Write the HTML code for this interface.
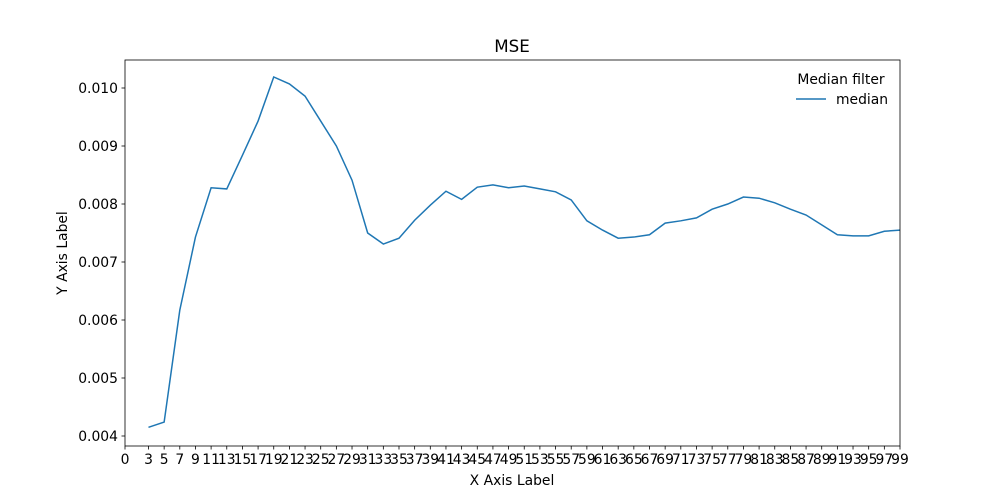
<!DOCTYPE html>
<html><head><meta charset="utf-8"><style>body{margin:0;background:#fff}svg{display:block;font-family:"DejaVu Sans","Liberation Sans",sans-serif}</style></head>
<body>
<svg id="chart" width="1000" height="500">
<rect width="1000" height="500" fill="#fff"/>
<g id="plot"></g>
</svg>
<script>
const xValues=[3,5,7,9,11,13,15,17,19,21,23,25,27,29,31,33,35,37,39,41,43,45,47,49,51,53,55,57,59,61,63,65,67,69,71,73,75,77,79,81,83,85,87,89,91,93,95,97,99];
const medianValues=[0.00415,0.00424,0.00617,0.00743,0.00828,0.00826,0.00884,0.00943,0.01019,0.01007,0.00986,0.00943,0.009,0.00841,0.0075,0.00731,0.00741,0.00772,0.00798,0.00822,0.00808,0.00829,0.00833,0.00828,0.00831,0.00826,0.00821,0.00807,0.00771,0.00755,0.00741,0.00743,0.00747,0.00767,0.00771,0.00776,0.00791,0.008,0.00812,0.0081,0.00802,0.00791,0.00781,0.00764,0.00747,0.00745,0.00745,0.00753,0.00755];
const xTicks=[0,3,5,7,9,11,13,15,17,19,21,23,25,27,29,31,33,35,37,39,41,43,45,47,49,51,53,55,57,59,61,63,65,67,69,71,73,75,77,79,81,83,85,87,89,91,93,95,97,99];
const yTicks=[0.004,0.005,0.006,0.007,0.008,0.009,0.010];
const L=125,R=900,T=60,B=446;
const X=v=>L+(v-0)/(99-0)*(R-L);
const Y=v=>88+(0.010-v)/0.006*348;
const ns='http://www.w3.org/2000/svg',g=document.getElementById('plot');
function mk(t,a,txt){const e=document.createElementNS(ns,t);for(const k in a)e.setAttribute(k,a[k]);if(txt!=null)e.textContent=txt;g.appendChild(e);return e;}
let d=xValues.map((x,i)=>(i?'L':'M')+X(x).toFixed(2)+','+Y(medianValues[i]).toFixed(2)).join('');
const line=mk('path',{d:d,fill:'none',stroke:'#1f77b4','stroke-width':1.5});


const frame=mk('rect',{x:L,y:T,width:R-L,height:B-T,fill:'none',stroke:'#000','stroke-width':0.8});


xTicks.forEach(v=>{mk('line',{x1:X(v),x2:X(v),y1:B,y2:B+3.5,stroke:'#000','stroke-width':0.8});
const t=mk('text',{x:X(v),y:B+18,'text-anchor':'middle','font-size':13.9},String(v));

});
yTicks.forEach(v=>{mk('line',{x1:L-3.5,x2:L,y1:Y(v),y2:Y(v),stroke:'#000','stroke-width':0.8});
const t=mk('text',{x:L-7,y:Y(v)+5,'text-anchor':'end','font-size':13.9},v.toFixed(3));

});
const ti=mk('text',{x:512,y:52,'text-anchor':'middle','font-size':16.7},'MSE');


const xl=mk('text',{x:512,y:485,'text-anchor':'middle','font-size':13.9},'X Axis Label');


const yl=mk('text',{x:67,y:253,'text-anchor':'middle','font-size':13.9,transform:'rotate(-90 67 253)'},'Y Axis Label');


const lt=mk('text',{x:841,y:84,'text-anchor':'middle','font-size':13.9},'Median filter');


const ll=mk('line',{x1:796,x2:826,y1:99,y2:99,stroke:'#1f77b4','stroke-width':1.5});


const lx=mk('text',{x:836,y:104,'font-size':13.9},'median');


</script>
</body></html>
